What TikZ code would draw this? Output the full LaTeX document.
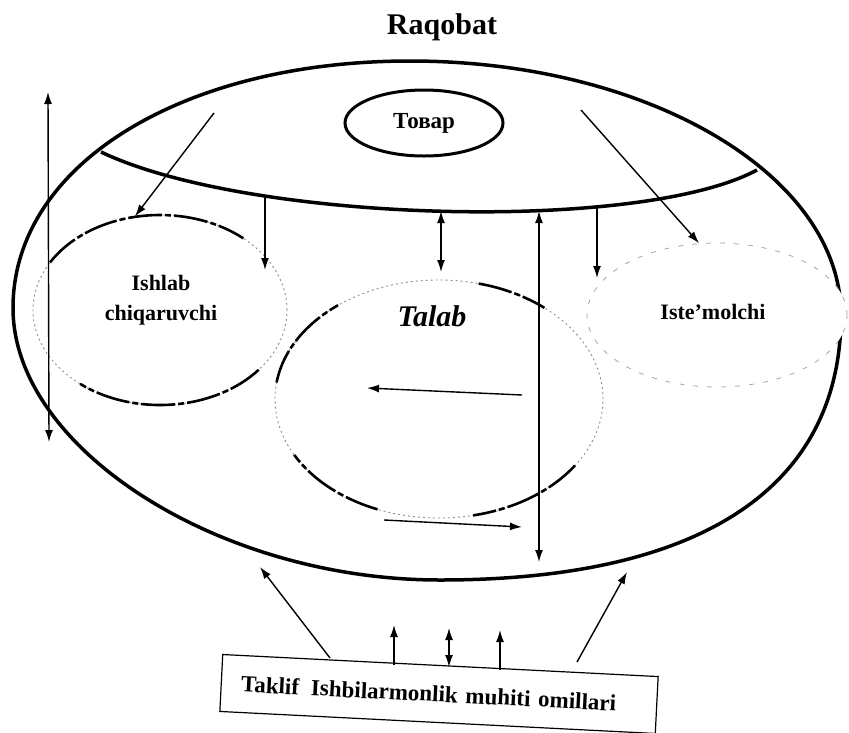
\documentclass[tikz,border=0pt]{standalone}
\usepackage{fontspec}
\setmainfont{Liberation Serif}
\usetikzlibrary{shapes,arrows.meta,positioning}
\tikzstyle{rim} = [line width=3.5pt]
\tikzstyle{tovar} = [draw,line width=3pt,ellipse,inner sep=0,minimum width=158pt,minimum height=66pt,font=\fontsize{23}{26}\bfseries\selectfont]
\tikzstyle{part} = [ellipse,inner sep=0,line width=0.9pt,draw=black!45,dash pattern=on 2pt off 3pt]
\tikzstyle{heavy} = [line width=2.6pt,dash pattern=on 34pt off 3pt on 6pt off 3pt]
\tikzstyle{faint} = [ellipse,inner sep=0,line width=0.8pt,draw=black!35,fill=white,dash pattern=on 5pt off 9pt]
\tikzstyle{lbl} = [inner sep=0,align=center,font=\fontsize{22}{30}\bfseries\selectfont]
\tikzstyle{crease} = [line width=3.5pt]
\tikzstyle{link} = [-{Latex[length=12pt,width=8pt]},line width=1.4pt]
\tikzstyle{both} = [{Latex[length=12pt,width=8pt]}-{Latex[length=12pt,width=8pt]},line width=1.4pt]
\tikzstyle{omil} = [draw,line width=1.2pt,rectangle,inner xsep=20pt,inner ysep=0,minimum width=436pt,minimum height=57pt,text width=396pt,align=left,font=\fontsize{23}{27}\bfseries\selectfont]
\def \tilt {-2.9}

\begin{document}
\begin{tikzpicture}[x=1pt,y=-1pt]
  \useasboundingbox (0,0) rectangle (849,732);
  \node[font=\fontsize{30}{36}\bfseries\selectfont] (raqobat) at (442,27) {Raqobat};
  % market contour
  \draw[rim] (410,61) .. controls (648,61) and (841,175) .. (841,315)
    .. controls (841,487) and (702,580) .. (440,580)
    .. controls (218,580) and (13,448) .. (13,308)
    .. controls (13,165) and (182,61) .. (410,61) -- cycle;
  \node[tovar] (tovar) at (424,123) {Товар};
  % arc under the product zone
  \coordinate (arcL) at (101,152);
  \coordinate (arcR) at (757,170);
  \draw[crease] (arcL) .. controls (250,223) and (640,233) .. (arcR);
  \node[part,minimum width=254pt,minimum height=190pt] (ishlab) at (160,310) {};
  \draw[heavy] (ishlab.center) ++(210:127 and 95) arc[start angle=210,end angle=311,x radius=127,y radius=95];
  \draw[heavy] (ishlab.center) ++(39:127 and 95) arc[start angle=39,end angle=129,x radius=127,y radius=95];
  \node[part,minimum width=328pt,minimum height=238pt] (talab) at (439,399) {};
  \draw[heavy] (talab.center) ++(188:164 and 119) arc[start angle=188,end angle=232,x radius=164,y radius=119];
  \draw[heavy] (talab.center) ++(284:164 and 119) arc[start angle=284,end angle=310,x radius=164,y radius=119];
  \draw[heavy] (talab.center) ++(112:164 and 119) arc[start angle=112,end angle=152,x radius=164,y radius=119];
  \draw[heavy] (talab.center) ++(34:164 and 119) arc[start angle=34,end angle=78,x radius=164,y radius=119];
  \node[faint,minimum width=260pt,minimum height=144pt] (istemol) at (717,315) {};
  \node[lbl] (ishlabtxt) at (161,300) {Ishlab\\chiqaruvchi};
  \node[lbl,font=\fontsize{30}{36}\bfseries\itshape\selectfont] (talabtxt) at (432,316) {Talab};
  \node[lbl] (istemoltxt) at (713,312) {Iste'molchi};
  \node[omil,rotate=\tilt] (omil) at (439,694) {Taklif\hspace{12pt}Ishbilarmonlik muhiti omillari};
  % free ends
  \coordinate (v0a) at (48,92);   \coordinate (v0b) at (49,442);
  \coordinate (d1) at (214,113);  \coordinate (d2) at (581,110);
  \coordinate (a1) at (265,196);  \coordinate (a1e) at (265,270);
  \coordinate (a2) at (441,211);  \coordinate (a2e) at (441,272);
  \coordinate (a3) at (539,211);  \coordinate (a3e) at (539,562);
  \coordinate (a4) at (597,207);  \coordinate (a4e) at (597,278);
  \coordinate (t1) at (522,395);  \coordinate (t1e) at (367,388);
  \coordinate (t2) at (384,520);  \coordinate (t2e) at (522,527);
  \coordinate (u1) at (330,658);  \coordinate (u1e) at (260,567);
  \coordinate (u2) at (394,665);  \coordinate (u2e) at (394,625);
  \coordinate (u3) at (449,667);  \coordinate (u3e) at (449,628);
  \coordinate (u4) at (500,670);  \coordinate (u4e) at (500,630);
  \coordinate (u5) at (577,662);  \coordinate (u5e) at (627,572);
  \draw[both] (v0a) -- (v0b);
  \draw[link] (d1) -- (ishlab.105);
  \draw[link] (d2) -- (istemol.104);
  \draw[link] (a1) -- (a1e);
  \draw[both] (a2) -- (a2e);
  \draw[both] (a3) -- (a3e);
  \draw[link] (a4) -- (a4e);
  \draw[link] (t1) -- (t1e);
  \draw[link] (t2) -- (t2e);
  \draw[link] (u1) -- (u1e);
  \draw[link] (u2) -- (u2e);
  \draw[both] (u3) -- (u3e);
  \draw[link] (u4) -- (u4e);
  \draw[link] (u5) -- (u5e);
\end{tikzpicture}
\end{document}
